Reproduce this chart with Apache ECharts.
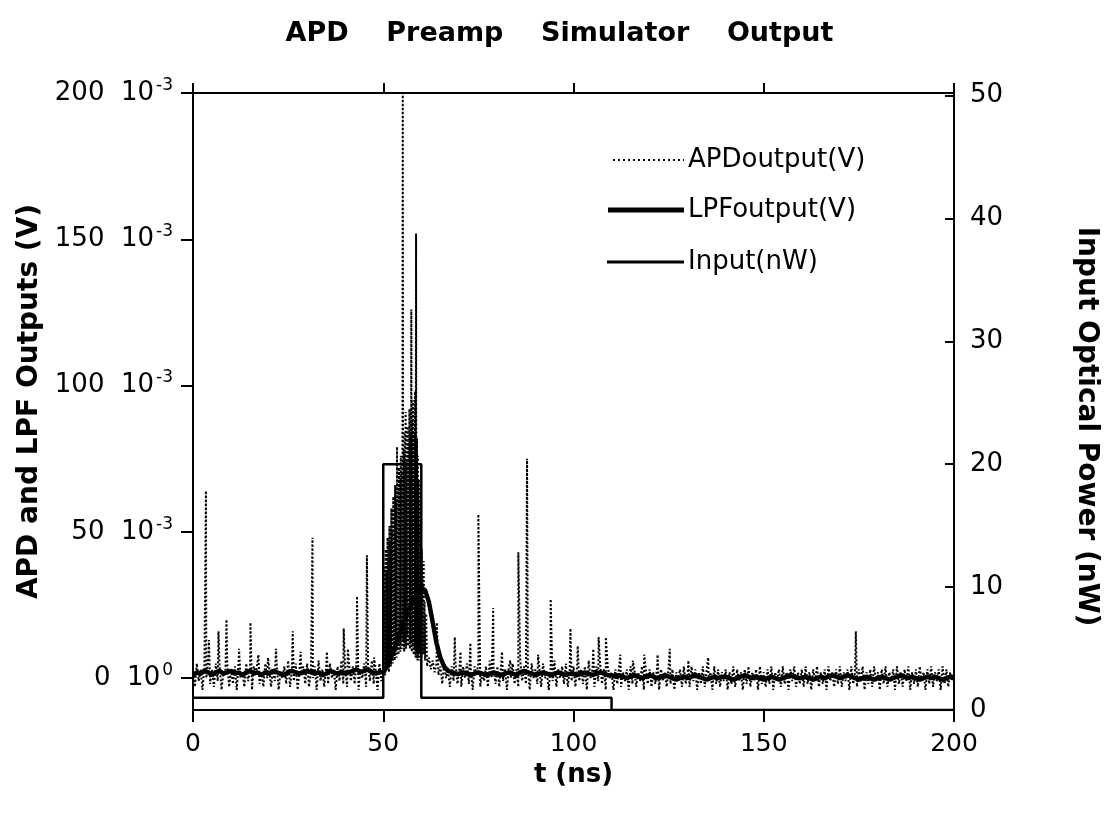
<!DOCTYPE html>
<html>
<head>
<meta charset="utf-8">
<script src="https://cdn.jsdelivr.net/npm/echarts@6/dist/echarts.min.js"></script>
<style>html,body{margin:0;padding:0;background:#fff}#c{width:1119px;height:819px}</style>
</head>
<body>
<div id="c"></div>
<script>
// ---- data (APD/LPF in mV, input in nW, time in ns) ----
const xTicks = [0, 50, 100, 150, 200];
const leftTicks = [0, 50, 100, 150, 200];
const rightTicks = [0, 10, 20, 30, 40, 50];

// APD output baseline samples every 0.5 ns, 0 .. 49.5 ns (mV)
const apdBasePre = [
 2,-3,5,-1,3,-4,4,0,6,-2,3,-3,5,-1,4,-4,2,1,5,-3,
 3,-2,4,-4,6,0,2,-3,5,-1,3,-4,4,1,6,-2,2,-3,5,0,
 4,-3,3,-1,5,-4,2,0,4,-2,6,-3,3,-1,5,-4,3,1,4,-2,
 5,-3,2,0,4,-4,6,-1,3,-3,4,-2,5,0,3,-4,4,-1,6,-2,
 3,-3,5,-1,4,-2,6,-4,3,0,5,-3,4,-1,6,-2,3,-4,5,-1
];
// APD output during the optical pulse, every 0.125 ns, 50 .. 60.875 ns (mV)
const apdPulse = [
 2,30, 3,38, 1,44, 4,36, 3,48, 5,41, 2,52, 6,46,
 4,58, 7,50, 5,62, 8,55, 6,66, 9,60, 7,79, 10,64,
 8,72, 11,68, 9,76, 12,70, 10,200, 13,78, 9,84, 12,91,
 10,74, 14,86, 11,80, 13,92, 10,84, 12,126, 9,88, 11,95,
 8,84, 10,98, 7,152, 9,82, 6,76, 8,68, 6,60, 9,52,
 7,44, 10,34, 8,40, 9,26
];
// APD output baseline samples every 0.5 ns, 61 .. 200 ns (mV)
const apdBasePost = [
 6,4,7,3,6,2,5,1,4,-2,5,0,3,-3,4,-1,5,-2,
 3,-3,4,0,5,-2,3,-4,4,1,5,-3,2,-1,4,-3,6,0,3,-2,
 4,-3,5,-1,3,-4,4,0,5,-2,3,-3,6,-1,4,-2,3,-4,5,0,
 3,-2,4,-3,5,0,2,-4,4,-1,6,-3,3,0,4,-2,5,-3,3,-1,
 4,-3,5,-1,3,-2,4,-4,6,0,3,-3,4,-1,5,-2,3,-4,4,0,
 2,-4,3,-2,4,-3,2,-1,3,-4,4,-2,3,-3,2,-1,4,-4,3,-2,
 3,-3,2,-2,4,-4,3,-1,2,-3,4,-2,3,-4,2,0,3,-3,4,-2,
 2,-3,4,-1,3,-4,2,-2,4,-3,3,-1,2,-4,4,-2,3,-3,2,-1,
 3,-4,2,-2,4,-3,3,-1,2,-4,3,-2,4,-3,2,-1,3,-4,4,-2,
 2,-3,3,-2,4,-4,2,-1,3,-3,4,-2,2,-4,3,-1,4,-3,2,-2,
 3,-3,4,-2,2,-4,3,-1,4,-3,2,-2,3,-4,4,-1,2,-3,3,-2,
 4,-3,2,-1,3,-4,4,-2,2,-3,3,-1,4,-4,2,-2,3,-3,4,-1,
 2,-4,3,-2,4,-3,2,-1,3,-4,4,-2,2,-3,3,-1,4,-4,2,-2,
 3,-3,4,-1,2,-4,3,-2,4,-3,2,-1,3,-4,4,-2,3,-3,2,-1,
 2
];
// APD isolated spikes (time ns, peak mV)
const apdSpikeT = [3.4,4.2,6.7,8.8,12.1,15.1,17.2,19.7,21.8,26.2,28.3,31.4,35.2,39.6,40.7,43.1,45.7,47.6,
  61.3,64.1,68.8,70.3,72.9,75.0,78.9,81.2,83.4,85.5,87.8,90.7,94.0,99.2,101.1,105.2,106.6,108.5,
  112.3,115.6,118.6,122.1,125.3,130.2,135.4,174.2];
const apdSpikeV = [64,13,16,20,10,19,8,7,10,16,9,48,9,17,10,28,42,7,
  22,19,14,9,12,56,24,9,6,43,75,8,27,17,11,10,14,14,
  8,6,8,8,10,6,7,16];

// LPF output every 1 ns from 0 to 200 ns (mV)
const lpfV = [
 1,2,1.5,2.5,2,1,2,2.5,1.5,2,
 2.5,1.5,2,1,2,2.5,1.5,2,1,2,
 1.5,2.5,2,1.5,1,2,2.5,2,1.5,2,
 2.5,2,1.5,2,1,1.5,2.5,2,1.5,2,
 1.5,2,2.5,3,2,2.5,3,2,1.5,2,
 2,4,7,10,14,18,21,24,27,29,
 31,30,26,19,12,7,4,2.5,2,1.5,
 1.5,2,1.5,1,1.5,2,1.5,1,1.5,2,
 1.5,1,1.5,2,1.5,1,2,2.5,2,1.5,
 1,1.5,2,1.5,1,1.5,2,1.5,1,1.5,
 1.5,1,1.5,2,1.5,1,1.5,2,1.5,1,
 1,0.5,1,0.5,0,0.5,1,0.5,0,0.5,
 1,0.5,0,0.5,1,0.5,0,-0.5,0,0.5,
 0,0.5,1,0.5,0,-0.5,0,0.5,0,0.5,
 0.5,0,-0.5,0,0.5,1,0.5,0,0.5,0,
 -0.5,0,0.5,0,-0.5,0,0.5,1,0.5,0,
 0,0.5,0,-0.5,0,0.5,0,0.5,1,0.5,
 0,0.5,1,0.5,0,-0.5,0,0.5,0,-0.5,
 0,0.5,0,-0.5,0,0.5,1,0.5,0,0.5,
 0,-0.5,0,0.5,0,0.5,0,-0.5,0,0.5,0
];

// Input optical power (nW)
const inputT = [0, 50, 50, 60, 60, 110, 110, 200];
const inputV = [1, 1, 20, 20, 1, 1, 0, 0];

// ---- build series data ----
const apdData = apdBasePre.map((v, i) => [i * 0.5, v])
  .concat(apdPulse.map((v, i) => [50 + i * 0.125, v]))
  .concat(apdBasePost.map((v, i) => [61 + i * 0.5, v]))
  .concat(apdSpikeT.map((t, i) => [t, apdSpikeV[i]]))
  .sort((a, b) => a[0] - b[0]);
const lpfData = lpfV.map((v, i) => [i, v]);
const inputData = inputT.map((t, i) => [t, inputV[i]]);

const FONT = 'DejaVu Sans';
const AX = {color: '#000', width: 2};
const chart = echarts.init(document.getElementById('c'), null, {renderer: 'canvas'});

const legendItems = [
  {name: 'APDoutput(V)', y: 160, x1: 613, width: 2, dash: [2, 3]},
  {name: 'LPFoutput(V)', y: 210, x1: 608, width: 5, dash: null},
  {name: 'Input(nW)', y: 262, x1: 607, width: 3, dash: null}
];
const legendGraphics = [];
legendItems.forEach(it => {
  legendGraphics.push({
    type: 'line', z: 100,
    shape: {x1: it.x1, y1: it.y, x2: 684, y2: it.y},
    style: {stroke: '#000', lineWidth: it.width, lineDash: it.dash || undefined}
  });
  legendGraphics.push({
    type: 'text', z: 100, x: 688, y: it.y,
    style: {text: it.name, fill: '#000', font: '26px "DejaVu Sans"', textVerticalAlign: 'middle', textAlign: 'left'}
  });
});

chart.setOption({
  backgroundColor: '#fff',
  animation: false,
  textStyle: {fontFamily: FONT, color: '#000'},
  title: {
    text: 'APD    Preamp    Simulator    Output',
    left: 'center', top: 15,
    textStyle: {fontFamily: FONT, fontSize: 27, fontWeight: 'bold', color: '#000'}
  },
  graphic: legendGraphics,
  grid: {left: 193, right: 165, top: 93, bottom: 109},
  xAxis: [{
    type: 'value', min: 0, max: 200, interval: 50,
    name: 't (ns)', nameLocation: 'middle', nameGap: 48,
    nameTextStyle: {fontFamily: FONT, fontSize: 26, fontWeight: 'bold', color: '#000'},
    axisLine: {show: true, onZero: false, lineStyle: AX},
    axisTick: {show: true, length: 12, inside: false, lineStyle: AX},
    axisLabel: {fontFamily: FONT, fontSize: 25, color: '#000', margin: 22},
    splitLine: {show: false}
  }, {
    type: 'value', position: 'top', min: 0, max: 200, interval: 50,
    axisLine: {show: true, onZero: false, lineStyle: AX},
    axisTick: {show: true, length: 10, inside: false, lineStyle: AX},
    axisLabel: {show: false},
    splitLine: {show: false}
  }],
  yAxis: [{
    type: 'value', position: 'left', min: -10.9, max: 200,
    name: 'APD and LPF Outputs (V)', nameLocation: 'middle', nameGap: 148,
    nameTextStyle: {fontFamily: FONT, fontSize: 28, fontWeight: 'bold', color: '#000'},
    axisLine: {show: true, onZero: false, lineStyle: AX},
    axisTick: {show: true, length: 12, inside: false, customValues: leftTicks, lineStyle: AX},
    axisLabel: {
      customValues: leftTicks, margin: 20,
      formatter: v => v === 0 ? '{n|0  10}{s|0}' : '{n|' + v + '  10}{s|-3}',
      rich: {
        n: {fontFamily: FONT, fontSize: 26, color: '#000', lineHeight: 32},
        s: {fontFamily: FONT, fontSize: 17, color: '#000', verticalAlign: 'top', lineHeight: 32, padding: [0, 0, 0, 2]}
      }
    },
    splitLine: {show: false}
  }, {
    type: 'value', position: 'right', min: 0, max: 50.2,
    name: 'Input Optical Power (nW)', nameLocation: 'middle', nameGap: 118, nameRotate: -90,
    nameTextStyle: {fontFamily: FONT, fontSize: 28, fontWeight: 'bold', color: '#000', padding: [0, 0, 0, 50]},
    axisLine: {show: true, onZero: false, lineStyle: AX},
    axisTick: {show: true, length: 9, inside: true, customValues: rightTicks, lineStyle: AX},
    axisLabel: {customValues: rightTicks, fontFamily: FONT, fontSize: 26, color: '#000', margin: 16},
    splitLine: {show: false}
  }],
  series: [{
    name: 'APDoutput(V)', type: 'line', xAxisIndex: 0, yAxisIndex: 0,
    data: apdData, symbol: 'none', showSymbol: false,
    lineStyle: {color: '#000', width: 2, type: [2, 2]}
  }, {
    name: 'LPFoutput(V)', type: 'line', xAxisIndex: 0, yAxisIndex: 0,
    data: lpfData, symbol: 'none', showSymbol: false,
    lineStyle: {color: '#000', width: 4.5}
  }, {
    name: 'Input(nW)', type: 'line', xAxisIndex: 0, yAxisIndex: 1,
    data: inputData, symbol: 'none', showSymbol: false,
    lineStyle: {color: '#000', width: 2.5}
  }]
});
</script>
</body>
</html>
